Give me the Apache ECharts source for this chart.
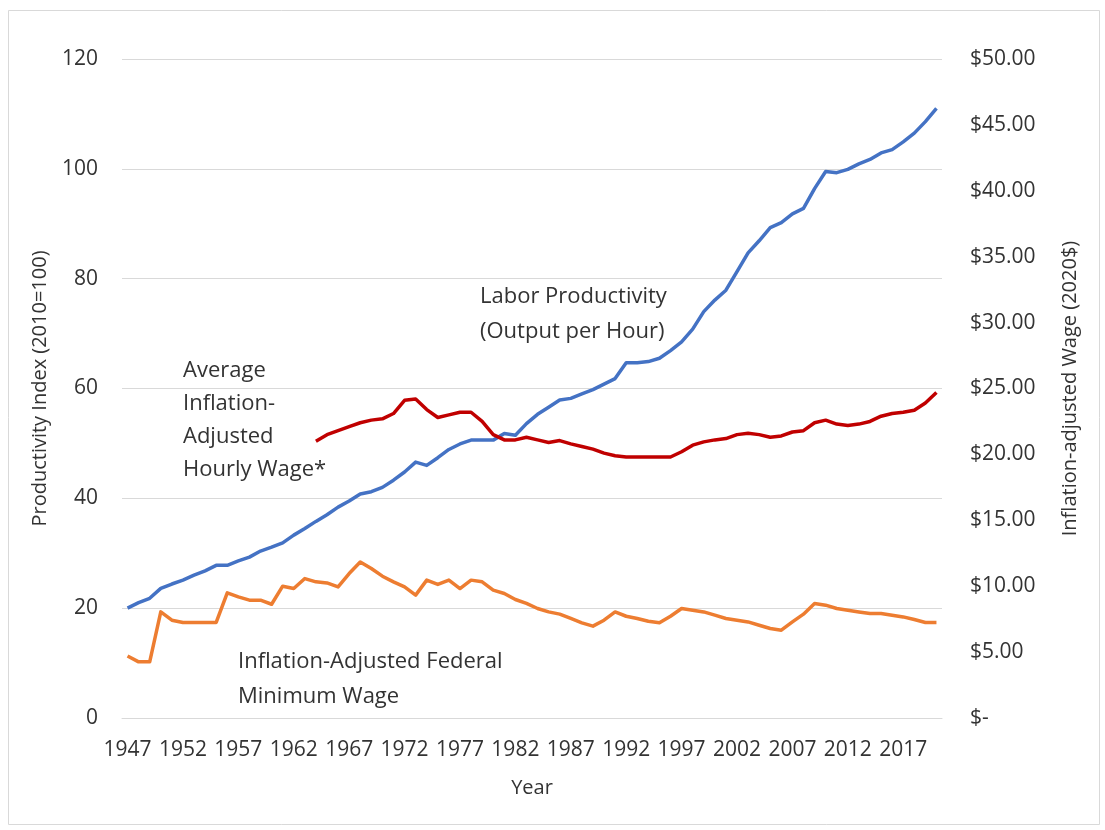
<!DOCTYPE html>
<html>
<head>
<meta charset="utf-8">
<title>Productivity vs Wages</title>
<script src="https://cdn.jsdelivr.net/npm/echarts@6/dist/echarts.min.js"></script>
<style>
	html, body { margin: 0; padding: 0; background: #fff; }
	#chartWrapper { width: 1105px; height: 830px; }
</style>
</head>
<body>
<div id="chartWrapper"></div>
<script>
// X軸年份
const years = [
	"1947","1948","1949","1950","1951","1952","1953","1954","1955","1956",
	"1957","1958","1959","1960","1961","1962","1963","1964","1965","1966",
	"1967","1968","1969","1970","1971","1972","1973","1974","1975","1976",
	"1977","1978","1979","1980","1981","1982","1983","1984","1985","1986",
	"1987","1988","1989","1990","1991","1992","1993","1994","1995","1996",
	"1997","1998","1999","2000","2001","2002","2003","2004","2005","2006",
	"2007","2008","2009","2010","2011","2012","2013","2014","2015","2016",
	"2017","2018","2019","2020"
];
// 勞動生產力指數 (2010=100)
const productivity = [
	20.0, 21.0, 21.8, 23.6, 24.4, 25.1, 26.0, 26.8, 27.8, 27.8,
	28.6, 29.3, 30.4, 31.1, 31.9, 33.3, 34.5, 35.8, 37.0, 38.4,
	39.5, 40.8, 41.2, 42.0, 43.3, 44.8, 46.6, 46.0, 47.4, 48.9,
	49.9, 50.6, 50.6, 50.6, 51.8, 51.5, 53.6, 55.3, 56.6, 57.9,
	58.2, 59.0, 59.8, 60.8, 61.8, 64.7, 64.7, 64.9, 65.5, 66.9,
	68.5, 70.8, 74.0, 76.1, 77.9, 81.3, 84.7, 86.9, 89.3, 90.2,
	91.8, 92.8, 96.4, 99.5, 99.3, 99.9, 100.9, 101.7, 102.9, 103.5,
	104.9, 106.5, 108.6, 111.0
];
// 平均時薪 (2020$)，1964年起
const avgWage = [
	null, null, null, null, null, null, null, null, null, null,
	null, null, null, null, null, null, null, 21.0, 21.5, 21.8,
	22.1, 22.4, 22.6, 22.7, 23.1, 24.1, 24.2, 23.4, 22.8, 23.0,
	23.2, 23.2, 22.5, 21.5, 21.1, 21.1, 21.3, 21.1, 20.9, 21.05,
	20.8, 20.6, 20.4, 20.1, 19.9, 19.8, 19.8, 19.8, 19.8, 19.8,
	20.2, 20.7, 20.95, 21.1, 21.2, 21.5, 21.6, 21.5, 21.3, 21.4,
	21.7, 21.8, 22.4, 22.6, 22.3, 22.2, 22.3, 22.5, 22.9, 23.1,
	23.2, 23.35, 23.9, 24.7
];
// 聯邦最低工資 (2020$)
const minWage = [
	4.71, 4.26, 4.26, 8.05, 7.42, 7.25, 7.25, 7.25, 7.25, 9.50,
	9.19, 8.94, 8.94, 8.63, 10.00, 9.82, 10.58, 10.33, 10.25, 9.95,
	10.96, 11.84, 11.34, 10.76, 10.33, 9.95, 9.32, 10.46, 10.13, 10.46,
	9.82, 10.46, 10.33, 9.70, 9.45, 8.99, 8.69, 8.31, 8.05, 7.88,
	7.55, 7.22, 6.97, 7.42, 8.05, 7.72, 7.55, 7.34, 7.22, 7.72,
	8.31, 8.18, 8.05, 7.80, 7.55, 7.42, 7.29, 7.04, 6.79, 6.66,
	7.29, 7.88, 8.69, 8.56, 8.31, 8.18, 8.05, 7.93, 7.93, 7.80,
	7.67, 7.47, 7.25, 7.25
];

const fontFamily = "'Open Sans', 'Liberation Sans', sans-serif";
const textColor = "#333333";
const gridColor = "#d9d9d9";

const myChart = echarts.init(document.getElementById("chartWrapper"));

let option = {
	animation: false,
	backgroundColor: "#fff",
	textStyle: { fontFamily: fontFamily },
	grid: {
		left: 122,
		right: 163,
		top: 59,
		bottom: 112,
		containLabel: false,
		outerBoundsMode: "none"
	},
	xAxis: {
		type: "category",
		data: years,
		boundaryGap: true,
		name: "Year",
		nameLocation: "middle",
		nameGap: 60,
		nameTextStyle: { color: textColor, fontSize: 20, fontFamily: fontFamily },
		axisLine: { show: true, lineStyle: { color: gridColor, width: 1 } },
		axisTick: { show: false },
		axisLabel: {
			interval: 4,
			margin: 22,
			color: textColor,
			fontSize: 21,
			fontFamily: fontFamily
		}
	},
	yAxis: [
		{
			type: "value",
			min: 0,
			max: 120,
			interval: 20,
			name: "Productivity Index (2010=100)",
			nameLocation: "middle",
			nameGap: 72,
			nameTextStyle: { color: textColor, fontSize: 20, fontFamily: fontFamily },
			axisLine: { show: false },
			axisTick: { show: false },
			axisLabel: { margin: 24, color: textColor, fontSize: 21, fontFamily: fontFamily },
			splitLine: { lineStyle: { color: gridColor, width: 1 } }
		},
		{
			type: "value",
			min: 0,
			max: 50,
			interval: 5,
			position: "right",
			name: "Inflation-adjusted Wage (2020$)",
			nameLocation: "middle",
			nameGap: 118,
			nameRotate: 90,
			nameTextStyle: { color: textColor, fontSize: 20, fontFamily: fontFamily },
			axisLine: { show: false },
			axisTick: { show: false },
			axisLabel: {
				margin: 28,
				color: textColor,
				fontSize: 21,
				fontFamily: fontFamily,
				formatter: (v) => v === 0 ? "$-" : "$" + v.toFixed(2)
			},
			splitLine: { show: false }
		}
	],
	series: [
		{
			name: "Labor Productivity",
			type: "line",
			yAxisIndex: 0,
			data: productivity,
			symbol: "none",
			lineStyle: { color: "#4472C4", width: 3.5, join: "round" }
		},
		{
			name: "Average Hourly Wage",
			type: "line",
			yAxisIndex: 1,
			data: avgWage,
			symbol: "none",
			connectNulls: false,
			lineStyle: { color: "#C00000", width: 3.5, join: "round" }
		},
		{
			name: "Federal Minimum Wage",
			type: "line",
			yAxisIndex: 1,
			data: minWage,
			symbol: "none",
			lineStyle: { color: "#ED7D31", width: 3.5, join: "round" }
		}
	],
	// 圖上標註文字與外框
	graphic: [
		{
			type: "rect",
			left: 6,
			top: 8,
			shape: { width: 1091, height: 814 },
			style: { fill: null, stroke: gridColor, lineWidth: 1 },
			silent: true
		},
		{
			type: "text",
			left: 480,
			top: 279,
			style: {
				text: "Labor Productivity\n(Output per Hour)",
				fill: textColor,
				fontSize: 22,
				fontFamily: fontFamily,
				lineHeight: 35
			}
		},
		{
			type: "text",
			left: 183,
			top: 354,
			style: {
				text: "Average\nInflation-\nAdjusted\nHourly Wage*",
				fill: textColor,
				fontSize: 22,
				fontFamily: fontFamily,
				lineHeight: 33
			}
		},
		{
			type: "text",
			left: 238,
			top: 644,
			style: {
				text: "Inflation-Adjusted Federal\nMinimum Wage",
				fill: textColor,
				fontSize: 22,
				fontFamily: fontFamily,
				lineHeight: 35
			}
		}
	]
};

myChart.setOption(option);
</script>
</body>
</html>
